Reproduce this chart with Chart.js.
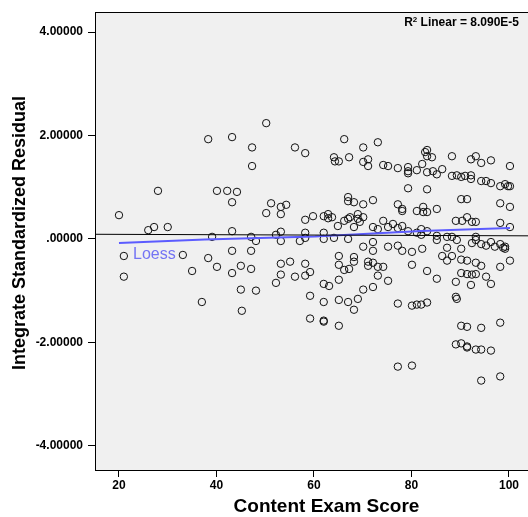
<!DOCTYPE html>
<html>
<head>
<meta charset="utf-8">
<script src="https://cdn.jsdelivr.net/npm/chart.js@4"></script>
<style>
  html, body { margin: 0; padding: 0; background: #ffffff; }
  #wrap { width: 528px; height: 517px; }
</style>
</head>
<body>
<div id="wrap"><canvas id="c" width="528" height="517"></canvas></div>
<script>
// ---- data ----
const scoreValues = [
  20, 21, 21, 28, 26, 27.2, 30, 33.1, 35, 38.3, 37,
  38.3, 43.2, 50.2, 47.3, 56.1, 58.2, 47.3, 40.1, 42.2, 44.2, 43.2, 51.2, 53.2, 54.3,
  50.2, 53.2, 58.2, 59.8, 43.2, 39.1, 47.1, 48.1, 52.2, 53.2, 53.2, 57.1, 58.2, 58.2,
  43.2, 47.1, 40.1, 45.0, 47.1, 43.2, 53.2, 55.1, 58.2, 53.2, 56.1, 58.2, 59.2, 52.2,
  45.0, 48.1, 59.2, 45.2, 59.2,
  66.2, 70.1, 73.1, 64.1, 64.3, 65.1, 67.2, 70.1, 71.1, 71.1, 74.2, 75.2, 77.2, 79.3,
  79.3, 79.3, 81.1, 82.2, 82.8, 79.3, 67.0, 67.0, 68.2, 70.1, 72.1, 77.2, 78.1,
  62.9, 62.9, 63.7, 62, 64.9, 66.2, 67, 67.4, 69, 69, 70.1, 68.2, 69.4, 72.1, 73.1,
  74.2, 75.2, 76.2, 77.2, 78.1, 78.1, 81.1, 79.3, 81.1, 82, 82, 62, 62, 64.1, 67,
  70.1, 72.1, 72.1, 75.2, 77.2, 78.1, 80.1, 82.2, 65.1, 65.1, 66.2, 67.2, 68.2, 68.2,
  71.1, 71.1, 72.1, 73.1, 74.2, 80.1, 73.1, 75.2, 65.1, 62, 63.1, 70.1, 72.1,
  62, 65.1, 67, 69, 68.2, 62, 62, 65.1, 77.2, 80.1, 81.1, 82, 77.2, 80.1,
  83.2, 83.2, 84.2, 88.3, 92.2, 93.2, 94.3, 96.3, 100.2, 83.2, 84.4, 85.2, 86.3,
  88.3, 89.3, 90.2, 91, 92.2, 92.2, 94.3, 95.3, 96.3, 98.2, 99.2, 100.2, 99.8, 83.2,
  90.2, 91.4, 98.2, 100.2, 82.4, 85.2,
  82.4, 83.2, 89.1, 90.4, 91.4, 92.4, 93.2, 98.2, 100.2, 83.2, 85.2, 85.2, 87.3,
  88.3, 89.3, 93.2, 92.4, 93.2, 94.3, 95.3, 96.3, 97.1, 98.2, 99.2, 99.2, 98.8,
  87.3, 90.2, 86.3, 88.3, 87.3, 90.2, 91.4, 93.2, 94.3, 98.2, 100.2, 83.2, 90.2,
  91.4, 92.4, 93.2, 95.3, 85.2, 89.1, 96.3, 92.2, 89.1,
  83.2, 89.3, 90.2, 91.4, 94.3, 98.2, 89.1, 90.2, 91.4, 91.4, 93.2, 94.3, 96.3,
  94.3, 98.2
];
const residualValues = [
  0.46, -0.33, -0.73, 0.93, 0.17, 0.23, 0.23, -0.31, -0.62, -0.37, -1.22,
  1.93, 1.97, 2.24, 1.77, 1.77, 1.66, 1.41, 0.93, 0.93, 0.91, 0.71, 0.69, 0.62, 0.66,
  0.50, 0.48, 0.37, 0.44, 0.15, 0.04, 0.04, -0.04, 0.08, 0.14, -0.04, -0.04, 0.12, 0.02,
  -0.23, -0.23, -0.54, -0.52, -0.58, -0.66, -0.48, -0.44, -0.48, -0.69, -0.73, -0.71, -0.64, -0.85,
  -0.98, -1.00, -1.10, -1.39, -1.54,
  1.93, 1.77, 1.87, 1.58, 1.50, 1.50, 1.58, 1.49, 1.54, 1.41, 1.43, 1.41, 1.37, 1.39,
  1.31, 1.27, 1.33, 1.45, 1.68, 0.98, 0.81, 0.73, 0.71, 0.67, 0.75, 0.67, 0.58,
  0.48, 0.40, 0.42, 0.44, 0.25, 0.35, 0.39, 0.42, 0.48, 0.39, 0.42, 0.23, 0.33, 0.23, 0.19,
  0.35, 0.23, 0.29, 0.21, 0.25, 0.54, 0.54, 0.15, 0.12, 0.19, 0.08, 0.12, 0.00, 0.02, 0.00,
  -0.15, -0.06, -0.23, -0.15, -0.13, -0.23, -0.25, -0.19, -0.33, -0.50, -0.60, -0.58, -0.35, -0.44,
  -0.44, -0.52, -0.46, -0.54, -0.54, -0.50, -0.71, -0.81, -0.79, -0.87, -0.91, -0.98, -0.93,
  -1.22, -1.18, -1.22, -1.16, -1.37, -1.58, -1.60, -1.68, -1.25, -1.29, -1.27, -1.27, -2.47, -2.45,
  1.72, 1.60, 1.58, 1.60, 1.54, 1.60, 1.47, 1.52, 1.41, 1.29, 1.31, 1.25, 1.35,
  1.22, 1.23, 1.20, 1.22, 1.23, 1.16, 1.12, 1.12, 1.08, 1.02, 1.06, 1.02, 1.02, 0.96,
  0.77, 0.77, 0.69, 0.62, 0.62, 0.58,
  0.52, 0.52, 0.35, 0.35, 0.42, 0.33, 0.33, 0.31, 0.23, 0.15, 0.06, -0.02, 0.04,
  0.04, -0.02, 0.04, -0.08, -0.02, -0.10, -0.13, -0.06, -0.15, -0.10, -0.15, -0.19, -0.17,
  -0.17, -0.19, -0.33, -0.33, -0.42, -0.40, -0.42, -0.46, -0.52, -0.54, -0.42, -0.62, -0.66,
  -0.68, -0.69, -0.68, -0.73, -0.77, -0.83, -0.87, -0.89, -1.12,
  -1.23, -1.16, -1.68, -1.70, -1.72, -1.62, -2.04, -2.02, -2.08, -2.10, -2.14, -2.14, -2.16,
  -2.74, -2.66
];
const fitX = [15.08, 103.9];
const fitY = [0.09, 0.06];
const loessX = [20, 37.6, 60.2, 82, 100.2];
const loessY = [-0.08, -0.01, 0.045, 0.155, 0.21];
const xTickValues = [20, 40, 60, 80, 100];
const yTickValues = [-4, -2, 0, 2, 4];
const xRange = [15.08, 103.9];
const yRange = [-4.47, 4.39];
const xTitle = 'Content Exam Score';
const yTitle = 'Integrate Standardized Residual';
const rSquaredText = ' Linear = 8.090E-5';
const loessLabel = 'Loess';

// ---- build ----
const FONT = '"Liberation Sans", Arial, Helvetica, sans-serif';
const toXY = (xs, ys) => xs.map((x, i) => ({ x: x, y: ys[i] }));

const bgPlugin = {
  id: 'bg',
  beforeDraw(chart) {
    const a = chart.chartArea, ctx = chart.ctx;
    ctx.save();
    ctx.fillStyle = '#f0f0f0';
    ctx.fillRect(a.left, a.top, a.right - a.left, a.bottom - a.top);
    ctx.restore();
  },
  afterDraw(chart) {
    const a = chart.chartArea, ctx = chart.ctx;
    ctx.save();
    ctx.strokeStyle = '#000';
    ctx.lineWidth = 1;
    ctx.beginPath();
    ctx.moveTo(a.left, a.top + 0.5);
    ctx.lineTo(a.right, a.top + 0.5);
    ctx.stroke();
    // R² annotation
    ctx.fillStyle = '#000';
    ctx.textBaseline = 'alphabetic';
    ctx.font = 'bold 12px ' + FONT;
    const rest = ctx.measureText(rSquaredText).width;
    const xEnd = a.right - 9;
    const yb = a.top + 14;
    ctx.textAlign = 'right';
    ctx.fillText(rSquaredText, xEnd, yb);
    ctx.font = 'bold 8px ' + FONT;
    const supW = ctx.measureText('2').width;
    ctx.fillText('2', xEnd - rest, yb - 4);
    ctx.font = 'bold 12px ' + FONT;
    ctx.fillText('R', xEnd - rest - supW, yb);
    // Loess label
    const xs = chart.scales.x, ys = chart.scales.y;
    const lx = xs.getPixelForValue(loessX[0]) + 14;
    const ly = ys.getPixelForValue(loessY[0]) + 12;
    ctx.font = '16px ' + FONT;
    ctx.fillStyle = '#7474f4';
    ctx.textAlign = 'left';
    ctx.textBaseline = 'middle';
    ctx.fillText(loessLabel, lx, ly);
    // axis titles
    ctx.fillStyle = '#000';
    ctx.textAlign = 'center';
    ctx.textBaseline = 'middle';
    ctx.font = 'bold 19px ' + FONT;
    ctx.fillText(xTitle, (a.left + a.right) / 2 + 15, chart.height - 10);
    ctx.save();
    ctx.translate(20, (a.top + a.bottom) / 2 - 8);
    ctx.rotate(-Math.PI / 2);
    ctx.font = 'bold 18px ' + FONT;
    ctx.fillText(yTitle, 0, 0);
    ctx.restore();
    ctx.restore();
  }
};

const fmtY = v => {
  let s = Math.abs(v).toFixed(5);
  if (s.startsWith('0')) s = s.slice(1);
  return (v < 0 ? '-' : '') + s;
};

new Chart(document.getElementById('c'), {
  type: 'scatter',
  data: {
    datasets: [
      {
        data: toXY(fitX, fitY),
        showLine: true,
        borderColor: '#000',
        borderWidth: 1,
        pointRadius: 0,
        pointHoverRadius: 0,
        fill: false
      },
      {
        data: toXY(loessX, loessY),
        showLine: true,
        borderColor: '#5c5cff',
        borderWidth: 2,
        pointRadius: 0,
        pointHoverRadius: 0,
        tension: 0,
        fill: false
      },
      {
        data: toXY(scoreValues, residualValues),
        pointRadius: 3.7,
        pointHoverRadius: 3.7,
        pointBorderWidth: 1,
        pointBorderColor: '#111',
        pointBackgroundColor: 'rgba(0,0,0,0)',
        showLine: false
      }
    ]
  },
  options: {
    responsive: false,
    animation: false,
    devicePixelRatio: 1,
    layout: { autoPadding: false, padding: { top: 12, left: 0, right: 0, bottom: 0 } },
    plugins: { legend: { display: false }, tooltip: { enabled: false } },
    scales: {
      x: {
        type: 'linear',
        min: xRange[0], max: xRange[1],
        afterBuildTicks: s => { s.ticks = xTickValues.map(v => ({ value: v })); },
        afterFit: s => { s.height = 47; s.paddingLeft = 0; s.paddingRight = 0; },
        ticks: {
          color: '#000', padding: 1,
          font: { family: FONT, size: 12, weight: 'bold' },
          callback: v => String(v)
        },
        grid: { display: true, drawOnChartArea: false, drawTicks: true, tickLength: 7, tickColor: '#000' },
        border: { display: true, color: '#000', width: 1 },
        title: { display: false }
      },
      y: {
        type: 'linear',
        min: yRange[0], max: yRange[1],
        afterBuildTicks: s => { s.ticks = yTickValues.map(v => ({ value: v })); },
        afterFit: s => { s.width = 95; s.paddingTop = 0; s.paddingBottom = 0; },
        ticks: {
          color: '#000', padding: 5,
          font: { family: FONT, size: 12, weight: 'bold' },
          callback: v => fmtY(v)
        },
        grid: { display: true, drawOnChartArea: false, drawTicks: true, tickLength: 7, tickColor: '#000' },
        border: { display: true, color: '#000', width: 1 },
        title: { display: false }
      }
    }
  },
  plugins: [bgPlugin]
});
</script>
</body>
</html>
